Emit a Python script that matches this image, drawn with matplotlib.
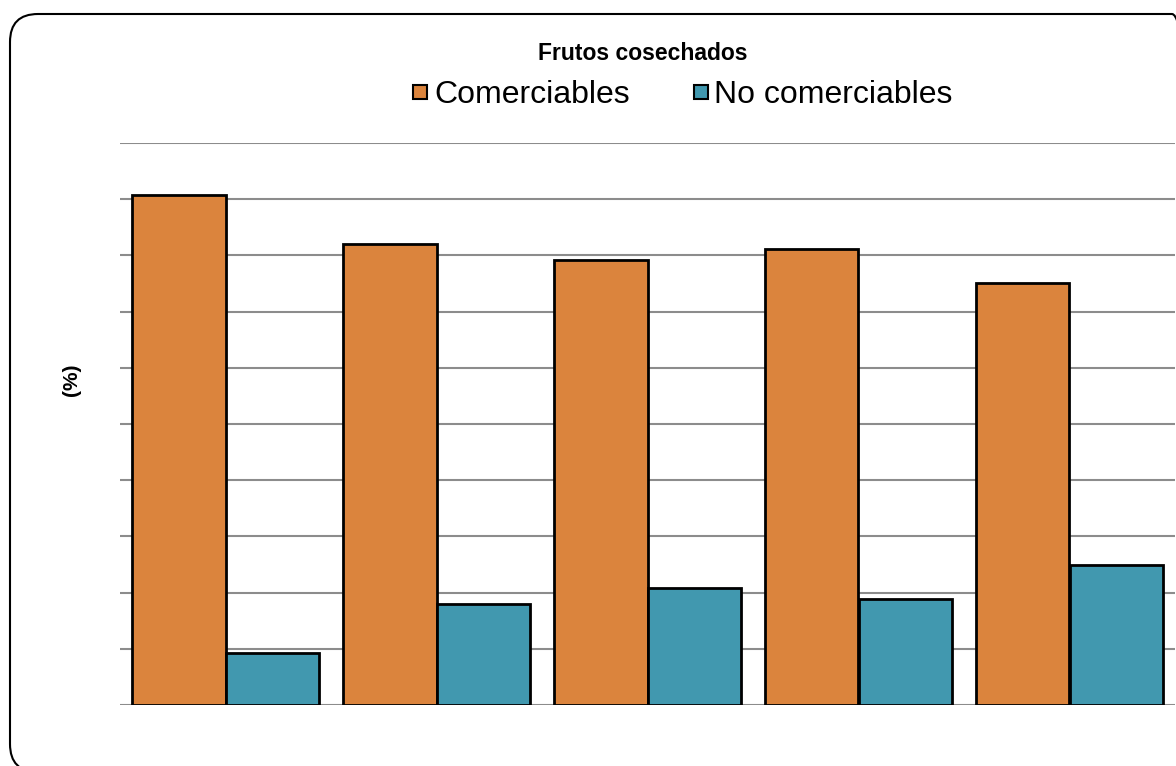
import numpy as np
import matplotlib
matplotlib.use("Agg")
import matplotlib.pyplot as plt
from matplotlib.lines import Line2D
from matplotlib.patches import FancyBboxPatch
from matplotlib.transforms import IdentityTransform

plt.rcParams['font.family'] = ['Liberation Sans', 'DejaVu Sans']

# values (%)
groups = ["1", "2", "3", "4", "5"]
comerciables = [90.7, 82.0, 79.2, 81.1, 75.1]
no_comerciables = [9.3, 18.0, 20.8, 18.9, 24.9]
series_names = ["Comerciables", "No comerciables"]
colors = ["#DB843D", "#4198AF"]

fig = plt.figure(figsize=(11.76, 7.66), dpi=100)
ax = fig.add_axes([120 / 1176, 61 / 766, 1055 / 1176, 562 / 766])

x = np.arange(len(groups))
w = 0.445
ax.bar(x - w / 2, comerciables, w, color=colors[0], edgecolor="black",
       linewidth=2, zorder=3)
ax.bar(x + w / 2, no_comerciables, w, color=colors[1], edgecolor="black",
       linewidth=2, zorder=3)

ax.set_xlim(-0.5, len(groups) - 0.5)
ax.set_ylim(0, 100)
ax.set_yticks(np.arange(0, 101, 10))
ax.yaxis.grid(True, color="#8c8c8c", linewidth=1.5, zorder=0)
ax.set_axisbelow(True)
ax.tick_params(left=False, bottom=False, labelleft=False, labelbottom=False)
for s in ax.spines.values():
    s.set_visible(False)

fig.text(72 / 1176, 1 - 380 / 766, "(%)", rotation=90, fontsize=15,
         fontweight="bold", ha="center", va="center")
fig.text(643 / 1176, 1 - 53 / 766, "Frutos cosechados", fontsize=16.5,
         fontweight="bold", ha="center", va="center")

handles = [Line2D([], [], linestyle="none", marker="s", markersize=10.5,
                  markerfacecolor=c, markeredgecolor="black", markeredgewidth=1.5)
           for c in colors]
fig.legend(handles, series_names, loc="center",
           bbox_to_anchor=(683 / 1176, 1 - 95 / 766), ncol=2,
           frameon=False, fontsize=23, handlelength=0.45,
           handletextpad=0.2, columnspacing=2.0, borderpad=0)

# rounded chart frame, cut off at the right and bottom
frame = FancyBboxPatch((10, -6), 1190, 758, boxstyle="round,pad=0,rounding_size=28",
                       transform=IdentityTransform(), facecolor="none",
                       edgecolor="black", linewidth=1.5)
fig.patches.append(frame)

fig.savefig("out.png", dpi=100)
